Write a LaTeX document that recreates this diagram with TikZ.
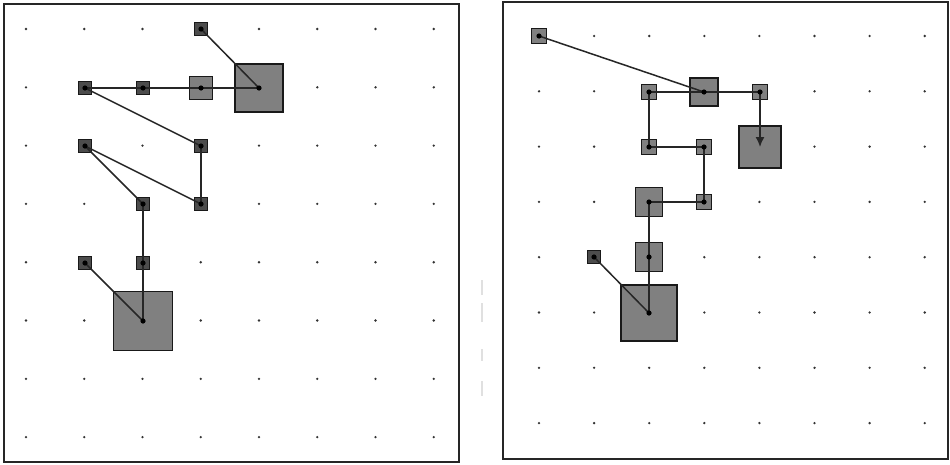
\documentclass[tikz,border=0pt]{standalone}
\usetikzlibrary{arrows.meta}
\tikzset{
  panel/.style={draw=black!85, line width=1.5pt},
  gdot/.style={fill=black!80, draw=none},
  sq/.style={rectangle, draw=black!90, line width=1.6pt, inner sep=0pt, outer sep=0pt},
  dk/.style={sq, fill=black!70},
  gy/.style={sq, fill=black!50},
  sz1/.style={minimum size=13pt},
  sz2/.style={minimum size=23pt},
  sz3/.style={minimum size=48pt},
  sz4/.style={minimum size=59pt},
  edge/.style={draw=black!85, line width=1.5pt},
  cdot/.style={fill=black, draw=none},
  faint/.style={draw=black!12, line width=1.5pt}
}
\begin{document}
\begin{tikzpicture}[x=1pt,y=-1pt]
\useasboundingbox (0,0) rectangle (950,464);
\fill[white] (0,0) rectangle (950,464);
% panels
\draw[panel] (4,4) rectangle (459,462);
\draw[panel] (503,2) rectangle (948,459);
% faint marks between panels
\draw[faint] (482,280) -- (482,295);
\draw[faint] (482,303) -- (482,322);
\draw[faint] (482,349) -- (482,361);
\draw[faint] (482,381) -- (482,396);
% grid dots
\foreach \i in {0,...,7}{\foreach \j in {0,...,7}{
  \fill[gdot] ({26+58.25*\i},{29+58.3*\j}) circle (1.3);
  \fill[gdot] ({539+55.1*\i},{36+55.3*\j}) circle (1.3);
}}
% left panel nodes
\node[dk,sz1] (a1) at (201,29) {};
\node[dk,sz1] (a2) at (85,88) {};
\node[dk,sz1] (a3) at (143,88) {};
\node[gy,sz2] (a4) at (201,88) {};
\node[gy,sz3] (a5) at (259,88) {};
\node[dk,sz1] (a6) at (85,146) {};
\node[dk,sz1] (a7) at (201,146) {};
\node[dk,sz1] (a8) at (143,204) {};
\node[dk,sz1] (a9) at (201,204) {};
\node[dk,sz1] (a10) at (85,263) {};
\node[dk,sz1] (a11) at (143,263) {};
\node[gy,sz4] (a12) at (143,321) {};
% left edges
\draw[edge] (a1.center) -- (a5.center);
\draw[edge] (a2.center) -- (a5.center);
\draw[edge] (a2.center) -- (a7.center);
\draw[edge] (a7.center) -- (a9.center);
\draw[edge] (a6.center) -- (a9.center);
\draw[edge] (a6.center) -- (a8.center);
\draw[edge] (a8.center) -- (a12.center);
\draw[edge] (a10.center) -- (a12.center);
% right panel nodes
\node[gy,minimum size=15pt] (b1) at (539,36) {};
\node[gy,minimum size=15pt] (b2) at (649,92) {};
\node[gy,minimum size=28pt] (b3) at (704,92) {};
\node[gy,minimum size=15pt] (b4) at (760,92) {};
\node[gy,minimum size=15pt] (b5) at (649,147) {};
\node[gy,minimum size=15pt] (b6) at (704,147) {};
\node[gy,minimum size=42pt] (b7) at (760,147) {};
\node[gy,minimum width=27pt,minimum height=29pt] (b8) at (649,202) {};
\node[gy,minimum size=15pt] (b9) at (704,202) {};
\node[dk,sz1] (b10) at (594,257) {};
\node[gy,minimum width=27pt,minimum height=29pt] (b11) at (649,257) {};
\node[gy,minimum size=56pt] (b12) at (649,313) {};
% right edges
\draw[edge] (b1.center) -- (b3.center);
\draw[edge] (b2.center) -- (b4.center);
\draw[edge] (b2.center) -- (b5.center);
\draw[edge] (b5.center) -- (b6.center);
\draw[edge] (b6.center) -- (b9.center);
\draw[edge] (b9.center) -- (b8.center);
\draw[edge] (b8.center) -- (b12.center);
\draw[edge] (b10.center) -- (b12.center);
\draw[edge,-{Latex[length=10pt,width=9pt]}] (b4.center) -- (b7.center);
% center dots
\foreach \n in {a1,a2,a3,a4,a5,a6,a7,a8,a9,a10,a11,a12,b1,b2,b3,b4,b5,b6,b8,b9,b10,b11,b12}{
  \fill[cdot] (\n.center) circle (2.6);
}
\end{tikzpicture}
\end{document}
